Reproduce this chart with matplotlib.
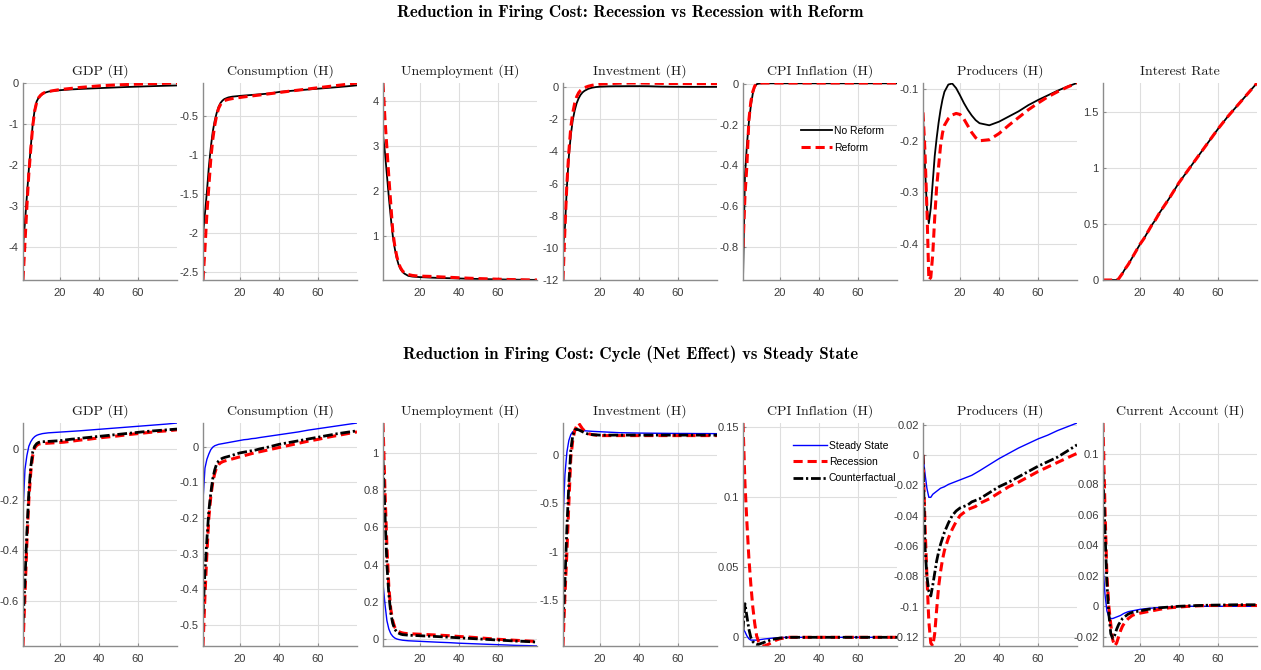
import matplotlib
matplotlib.use("Agg")
import matplotlib.pyplot as plt
from matplotlib.ticker import FuncFormatter

T = [1, 2, 3, 4, 5, 6, 7, 8, 9, 10, 11, 12, 14, 16, 18, 20, 22, 24, 26, 28,
     30, 35, 40, 45, 50, 55, 60, 65, 70, 75, 80]

# ---- top row: No Reform vs Reform ----
gdp_noreform = [-4.0, -3.4, -2.75, -2.1, -1.55, -1.0, -0.65, -0.45, -0.36, -0.31,
                -0.27, -0.24, -0.21, -0.195, -0.185, -0.175, -0.168, -0.162, -0.156, -0.151,
                -0.146, -0.135, -0.125, -0.115, -0.105, -0.096, -0.088, -0.08, -0.073, -0.066,
                -0.06]
gdp_reform = [-4.8, -3.9, -3.0, -2.2, -1.6, -1.05, -0.68, -0.47, -0.36, -0.3,
              -0.26, -0.235, -0.21, -0.19, -0.175, -0.16, -0.15, -0.14, -0.13, -0.12,
              -0.11, -0.09, -0.07, -0.056, -0.045, -0.036, -0.028, -0.02, -0.013, -0.006,
              0.0]
cons_noreform = [-2.02, -1.75, -1.47, -1.15, -0.9, -0.7, -0.56, -0.46, -0.38, -0.33,
                 -0.3, -0.28, -0.26, -0.25, -0.245, -0.24, -0.236, -0.232, -0.228, -0.224,
                 -0.22, -0.21, -0.19, -0.178, -0.168, -0.158, -0.148, -0.138, -0.128, -0.117,
                 -0.105]
cons_reform = [-2.6, -2.2, -1.75, -1.4, -1.05, -0.8, -0.62, -0.49, -0.4, -0.35,
               -0.32, -0.3, -0.285, -0.275, -0.268, -0.26, -0.253, -0.247, -0.241, -0.235,
               -0.229, -0.213, -0.197, -0.181, -0.166, -0.151, -0.136, -0.121, -0.106, -0.091,
               -0.075]
unemp_noreform = [3.25, 2.85, 2.35, 1.85, 1.4, 1.0, 0.72, 0.5, 0.35, 0.25,
                  0.19, 0.15, 0.1, 0.085, 0.078, 0.072, 0.068, 0.064, 0.06, 0.057,
                  0.054, 0.048, 0.042, 0.036, 0.031, 0.026, 0.022, 0.018, 0.015, 0.012,
                  0.01]
unemp_reform = [4.4, 3.6, 2.95, 2.3, 1.7, 1.1, 0.78, 0.55, 0.38, 0.28,
                0.21, 0.17, 0.13, 0.11, 0.1, 0.095, 0.092, 0.09, 0.087, 0.083,
                0.078, 0.068, 0.058, 0.048, 0.04, 0.033, 0.026, 0.02, 0.015, 0.011,
                0.008]
inv_noreform = [-10.0, -8.7, -6.2, -4.3, -3.0, -2.05, -1.45, -1.0, -0.7, -0.48,
                -0.33, -0.23, -0.1, -0.03, 0.01, 0.03, 0.04, 0.05, 0.055, 0.06,
                0.06, 0.065, 0.065, 0.06, 0.04, 0.03, 0.025, 0.02, 0.02, 0.02,
                0.02]
inv_reform = [-12.0, -8.8, -6.0, -4.0, -2.5, -1.6, -1.0, -0.6, -0.35, -0.2,
              -0.1, -0.03, 0.06, 0.12, 0.16, 0.19, 0.21, 0.22, 0.23, 0.24,
              0.25, 0.26, 0.26, 0.25, 0.24, 0.23, 0.23, 0.22, 0.22, 0.22,
              0.22]
cpi_noreform = [-0.96, -0.45, -0.3, -0.19, -0.11, -0.05, -0.015, -0.003, 0.0, 0.001,
                0.002, 0.002, 0.002, 0.002, 0.002, 0.002, 0.002, 0.002, 0.002, 0.002,
                0.002, 0.002, 0.002, 0.002, 0.002, 0.002, 0.002, 0.002, 0.002, 0.002,
                0.002]
cpi_reform = [-0.8, -0.55, -0.4, -0.18, -0.09, -0.04, -0.012, -0.002, 0.002, 0.003,
              0.003, 0.003, 0.003, 0.003, 0.003, 0.003, 0.003, 0.003, 0.003, 0.003,
              0.003, 0.003, 0.003, 0.003, 0.003, 0.003, 0.003, 0.003, 0.003, 0.003,
              0.003]
prod_noreform = [-0.15, -0.25, -0.33, -0.36, -0.33, -0.28, -0.23, -0.195, -0.165, -0.14,
                 -0.12, -0.105, -0.091, -0.089, -0.098, -0.112, -0.127, -0.14, -0.151, -0.16,
                 -0.166, -0.17, -0.163, -0.153, -0.143, -0.131, -0.121, -0.112, -0.103, -0.095,
                 -0.088]
prod_reform = [-0.145, -0.22, -0.33, -0.47, -0.465, -0.42, -0.35, -0.29, -0.25, -0.21,
               -0.185, -0.17, -0.157, -0.15, -0.147, -0.149, -0.158, -0.171, -0.184, -0.194,
               -0.2, -0.198, -0.186, -0.17, -0.155, -0.14, -0.127, -0.115, -0.105, -0.096,
               -0.088]
rate_noreform = [0.0, 0.0, 0.0, 0.0, 0.0, 0.0, 0.0, 0.0, 0.01, 0.035,
                 0.06, 0.09, 0.14, 0.2, 0.26, 0.32, 0.37, 0.43, 0.49, 0.54,
                 0.6, 0.73, 0.87, 0.99, 1.11, 1.23, 1.35, 1.46, 1.56, 1.66,
                 1.76]
rate_reform = [0.0, 0.0, 0.0, 0.0, 0.0, 0.0, 0.0, 0.0, 0.01, 0.035,
               0.06, 0.09, 0.14, 0.2, 0.26, 0.32, 0.37, 0.43, 0.49, 0.54,
               0.6, 0.73, 0.87, 0.99, 1.11, 1.23, 1.35, 1.46, 1.56, 1.66,
               1.76]

# ---- bottom row: Steady State vs Recession vs Counterfactual ----
gdp_ss = [-0.25, -0.08, -0.025, 0.012, 0.03, 0.042, 0.05, 0.055, 0.058, 0.06,
          0.062, 0.063, 0.065, 0.066, 0.067, 0.068, 0.069, 0.07, 0.071, 0.072,
          0.073, 0.076, 0.079, 0.082, 0.085, 0.088, 0.091, 0.094, 0.097, 0.1,
          0.104]
gdp_rec = [-0.78, -0.58, -0.37, -0.2, -0.09, -0.025, 0.005, 0.015, 0.02, 0.022,
           0.023, 0.023, 0.024, 0.025, 0.026, 0.027, 0.028, 0.03, 0.032, 0.034,
           0.036, 0.04, 0.045, 0.049, 0.053, 0.058, 0.062, 0.066, 0.07, 0.073,
           0.077]
gdp_cf = [-0.69, -0.52, -0.33, -0.17, -0.07, -0.01, 0.012, 0.022, 0.027, 0.029,
          0.03, 0.03, 0.031, 0.032, 0.033, 0.034, 0.036, 0.038, 0.04, 0.041,
          0.043, 0.047, 0.051, 0.055, 0.059, 0.063, 0.067, 0.071, 0.074, 0.077,
          0.08]
cons_ss = [-0.15, -0.06, -0.035, -0.02, -0.008, -0.001, 0.003, 0.005, 0.007, 0.008,
           0.009, 0.01, 0.012, 0.014, 0.016, 0.018, 0.02, 0.021, 0.023, 0.024,
           0.026, 0.03, 0.034, 0.038, 0.042, 0.047, 0.051, 0.055, 0.059, 0.063,
           0.067]
cons_rec = [-0.56, -0.42, -0.3, -0.2, -0.14, -0.1, -0.075, -0.058, -0.05, -0.045,
            -0.042, -0.04, -0.037, -0.034, -0.031, -0.028, -0.025, -0.022, -0.019, -0.016,
            -0.014, -0.008, -0.002, 0.004, 0.01, 0.016, 0.021, 0.027, 0.032, 0.037,
            0.042]
cons_cf = [-0.47, -0.35, -0.26, -0.18, -0.13, -0.09, -0.065, -0.048, -0.04, -0.035,
           -0.032, -0.03, -0.027, -0.024, -0.02, -0.017, -0.015, -0.013, -0.011, -0.009,
           -0.006, 0.0, 0.007, 0.012, 0.017, 0.022, 0.027, 0.032, 0.037, 0.041,
           0.045]
unemp_ss = [0.3, 0.19, 0.1, 0.055, 0.03, 0.016, 0.007, 0.002, -0.001, -0.003,
            -0.005, -0.006, -0.008, -0.009, -0.01, -0.011, -0.012, -0.013, -0.014, -0.015,
            -0.016, -0.018, -0.021, -0.023, -0.025, -0.027, -0.029, -0.031, -0.033, -0.034,
            -0.036]
unemp_rec = [1.16, 0.8, 0.5, 0.28, 0.16, 0.1, 0.065, 0.05, 0.042, 0.037,
             0.034, 0.032, 0.03, 0.029, 0.028, 0.027, 0.026, 0.025, 0.024, 0.023,
             0.022, 0.019, 0.015, 0.012, 0.008, 0.004, 0.0, -0.003, -0.006, -0.009,
             -0.012]
unemp_cf = [0.96, 0.68, 0.4, 0.24, 0.14, 0.085, 0.055, 0.04, 0.033, 0.028,
            0.025, 0.024, 0.022, 0.021, 0.02, 0.019, 0.018, 0.017, 0.016, 0.015,
            0.014, 0.011, 0.008, 0.005, 0.002, -0.001, -0.004, -0.007, -0.01, -0.012,
            -0.015]
inv_ss = [-0.68, -0.2, 0.03, 0.15, 0.21, 0.24, 0.25, 0.255, 0.255, 0.255,
          0.252, 0.25, 0.247, 0.244, 0.242, 0.24, 0.238, 0.236, 0.234, 0.232,
          0.23, 0.228, 0.226, 0.225, 0.224, 0.223, 0.222, 0.222, 0.221, 0.221,
          0.22]
inv_rec = [-1.97, -1.45, -1.0, -0.5, -0.03, 0.15, 0.25, 0.3, 0.33, 0.3,
           0.27, 0.25, 0.22, 0.21, 0.205, 0.2, 0.2, 0.2, 0.2, 0.2,
           0.2, 0.2, 0.2, 0.2, 0.2, 0.2, 0.2, 0.2, 0.2, 0.2,
           0.2]
inv_cf = [-1.72, -1.3, -0.75, -0.3, 0.05, 0.2, 0.26, 0.265, 0.26, 0.25,
          0.24, 0.23, 0.215, 0.21, 0.207, 0.205, 0.205, 0.205, 0.205, 0.205,
          0.205, 0.205, 0.205, 0.205, 0.205, 0.205, 0.205, 0.205, 0.205, 0.205,
          0.205]
cpi_ss = [0.006, 0.004, 0.001, -0.001, -0.002, -0.002, -0.002, -0.002, -0.0018, -0.0016,
          -0.0014, -0.0012, -0.0009, -0.0006, -0.0004, -0.0002, -0.0001, 0.0, 0.0, 0.0,
          0.0, 0.0, 0.0, 0.0, 0.0, 0.0, 0.0, 0.0, 0.0, 0.0,
          0.0]
cpi_rec = [0.153, 0.11, 0.082, 0.057, 0.038, 0.022, 0.01, 0.001, -0.003, -0.005,
           -0.006, -0.0062, -0.005, -0.0035, -0.002, -0.001, -0.0005, 0.0, 0.0, 0.0,
           0.0, 0.0, 0.0, 0.0, 0.0, 0.0, 0.0, 0.0, 0.0, 0.0,
           0.0]
cpi_cf = [0.005, 0.024, 0.015, 0.006, 0.0, -0.003, -0.0045, -0.005, -0.005, -0.0045,
          -0.004, -0.0035, -0.0025, -0.0015, -0.001, -0.0005, -0.0003, -0.0001, 0.0, 0.0,
          0.0, 0.0, 0.0, 0.0, 0.0, 0.0, 0.0, 0.0, 0.0, 0.0,
          0.0]
prod_ss = [0.0, -0.012, -0.022, -0.028, -0.028, -0.026, -0.025, -0.024, -0.023, -0.022,
           -0.0215, -0.021, -0.0195, -0.0185, -0.0175, -0.0165, -0.0155, -0.0145, -0.0135, -0.012,
           -0.0105, -0.0065, -0.0025, 0.001, 0.0045, 0.0075, 0.0105, 0.013, 0.016, 0.0185,
           0.021]
prod_rec = [0.0, -0.045, -0.08, -0.11, -0.124, -0.126, -0.118, -0.102, -0.087, -0.077,
            -0.069, -0.063, -0.055, -0.049, -0.044, -0.04, -0.038, -0.036, -0.035, -0.034,
            -0.032, -0.029, -0.025, -0.021, -0.018, -0.0145, -0.011, -0.008, -0.005, -0.002,
            0.001]
prod_cf = [0.0, -0.06, -0.08, -0.09, -0.093, -0.086, -0.078, -0.07, -0.064, -0.059,
           -0.055, -0.051, -0.045, -0.04, -0.037, -0.035, -0.034, -0.033, -0.031, -0.03,
           -0.029, -0.025, -0.021, -0.018, -0.0145, -0.011, -0.0075, -0.0045, -0.0015, 0.0025,
           0.0066]
ca_ss = [0.027, 0.008, -0.003, -0.007, -0.008, -0.008, -0.0075, -0.007, -0.0065, -0.006,
         -0.0052, -0.0045, -0.0035, -0.003, -0.0025, -0.002, -0.0017, -0.0014, -0.0012, -0.001,
         -0.0008, -0.0004, 0.0, 0.0, 0.0, 0.0, 0.0, 0.0, 0.0, 0.0,
         0.0]
ca_rec = [0.12, 0.065, 0.02, 0.0, -0.012, -0.022, -0.026, -0.024, -0.02, -0.016,
          -0.013, -0.011, -0.008, -0.006, -0.005, -0.0045, -0.004, -0.0035, -0.003, -0.0025,
          -0.002, -0.001, -0.0005, 0.0, 0.0003, 0.0005, 0.0005, 0.0005, 0.0005, 0.0005,
          0.0005]
ca_cf = [0.088, 0.05, 0.015, -0.005, -0.018, -0.021, -0.019, -0.015, -0.012, -0.01,
         -0.008, -0.007, -0.005, -0.004, -0.0035, -0.003, -0.0025, -0.002, -0.0017, -0.0014,
         -0.001, -0.0005, 0.0, 0.0003, 0.0005, 0.0007, 0.0008, 0.0009, 0.001, 0.001,
         0.001]

top_titles = ["GDP (H)", "Consumption (H)", "Unemployment (H)", "Investment (H)",
              "CPI Inflation (H)", "Producers (H)", "Interest Rate"]
bottom_titles = ["GDP (H)", "Consumption (H)", "Unemployment (H)", "Investment (H)",
                 "CPI Inflation (H)", "Producers (H)", "Current Account (H)"]
top_series = [(gdp_noreform, gdp_reform), (cons_noreform, cons_reform),
              (unemp_noreform, unemp_reform), (inv_noreform, inv_reform),
              (cpi_noreform, cpi_reform), (prod_noreform, prod_reform),
              (rate_noreform, rate_reform)]
bottom_series = [(gdp_ss, gdp_rec, gdp_cf), (cons_ss, cons_rec, cons_cf),
                 (unemp_ss, unemp_rec, unemp_cf), (inv_ss, inv_rec, inv_cf),
                 (cpi_ss, cpi_rec, cpi_cf), (prod_ss, prod_rec, prod_cf),
                 (ca_ss, ca_rec, ca_cf)]
top_yticks = [[-4, -3, -2, -1, 0], [-2.5, -2, -1.5, -1, -0.5], [1, 2, 3, 4],
              [-12, -10, -8, -6, -4, -2, 0], [-0.8, -0.6, -0.4, -0.2, 0],
              [-0.4, -0.3, -0.2, -0.1], [0, 0.5, 1, 1.5]]
bottom_yticks = [[-0.6, -0.4, -0.2, 0], [-0.5, -0.4, -0.3, -0.2, -0.1, 0],
                 [0, 0.2, 0.4, 0.6, 0.8, 1], [-1.5, -1, -0.5, 0], [0, 0.05, 0.1, 0.15],
                 [-0.12, -0.1, -0.08, -0.06, -0.04, -0.02, 0, 0.02],
                 [-0.02, 0, 0.02, 0.04, 0.06, 0.08, 0.1]]
xticks = [20, 40, 60]
top_labels = ["No Reform", "Reform"]
bottom_labels = ["Steady State", "Recession", "Counterfactual"]

plt.rcParams["axes.unicode_minus"] = False

W, H = 1261, 670
fig = plt.figure(figsize=(W / 100, H / 100), dpi=100)

TITLE_FONT = "cmr10"
TICK_FONT = "Liberation Sans"


def style_axis(ax, title, series, yticks):
    ax.set_xlim(T[0], T[-1])
    lo = min(min(s) for s in series)
    hi = max(max(s) for s in series)
    ax.set_ylim(lo, hi)  # axis tight, as in the original
    ax.set_xticks(xticks)
    ax.set_yticks(yticks)
    ax.yaxis.set_major_formatter(FuncFormatter(lambda v, _: f"{v:g}"))
    ax.grid(True, color="#dedede", lw=0.8)
    ax.set_axisbelow(True)
    for side in ["top", "right"]:
        ax.spines[side].set_visible(False)
    for side in ["left", "bottom"]:
        ax.spines[side].set_color("#8c8c8c")
        ax.spines[side].set_linewidth(1.0)
    ax.tick_params(direction="in", length=2.5, color="#8c8c8c",
                   labelsize=8, labelcolor="#3a3a3a", pad=3)
    ax.tick_params(axis="x", pad=6)
    for lab in ax.get_xticklabels() + ax.get_yticklabels():
        lab.set_fontfamily(TICK_FONT)
    ax.set_title(title, fontfamily=TITLE_FONT, fontsize=10, pad=6, color="#1a1a1a")


lefts = [23, 203, 383, 563, 743, 923, 1103]
pw = 154

# top row
for i, left in enumerate(lefts):
    ax = fig.add_axes([left / W, 1 - 280 / H, pw / W, 197 / H])
    noref, ref = top_series[i]
    ax.plot(T, noref, color="black", lw=1.3, label=top_labels[0])
    ax.plot(T, ref, color="red", lw=2.2, dashes=(3, 1.6), label=top_labels[1])
    style_axis(ax, top_titles[i], top_series[i], top_yticks[i])
    if i == 4:
        ax.legend(loc="upper left", bbox_to_anchor=(0.35, 0.805), frameon=False,
                  handlelength=3.0, handletextpad=0.2, labelspacing=0.72,
                  borderaxespad=0, prop={"family": TICK_FONT, "size": 7.5})

# bottom row
for i, left in enumerate(lefts):
    ax = fig.add_axes([left / W, 1 - 646 / H, pw / W, 223 / H])
    ss, rec, cf = bottom_series[i]
    ax.plot(T, ss, color="blue", lw=1.0, label=bottom_labels[0])
    ax.plot(T, rec, color="red", lw=2.2, dashes=(3, 1.6), label=bottom_labels[1])
    ax.plot(T, cf, color="black", lw=2.0, dashes=(3.5, 1.0, 0.8, 1.0), label=bottom_labels[2])
    style_axis(ax, bottom_titles[i], bottom_series[i], bottom_yticks[i])
    if i == 4:
        ax.legend(loc="upper left", bbox_to_anchor=(0.3, 0.94), frameon=False,
                  handlelength=3.2, handletextpad=0.2, labelspacing=0.62,
                  borderaxespad=0, prop={"family": TICK_FONT, "size": 7.5})

fig.text(0.5, 1 - 12 / H, "Reduction in Firing Cost: Recession vs Recession with Reform",
         ha="center", va="center", fontfamily="cmb10", fontsize=12.2)
fig.text(0.5, 1 - 354 / H, "Reduction in Firing Cost: Cycle (Net Effect) vs Steady State",
         ha="center", va="center", fontfamily="cmb10", fontsize=12.2)

fig.savefig("out.png", dpi=100)
